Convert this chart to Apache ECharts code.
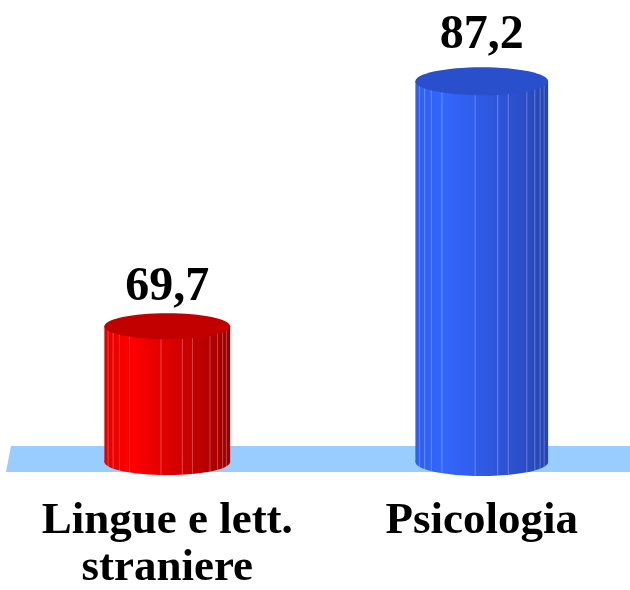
<!DOCTYPE html>
<html>
<head>
<meta charset="utf-8">
<script src="https://cdn.jsdelivr.net/npm/echarts@6/dist/echarts.min.js"></script>
<style>html,body{margin:0;padding:0;background:#fff;}#c{width:630px;height:590px;}</style>
</head>
<body>
<div id="c"></div>
<script>
const categories = ['Lingue e lett.\nstraniere', 'Psicologia'];
const values = [69.7, 87.2];
const axisMin = 60;
const axisMax = 90;

const palettes = [
  { stops: ['#e60000', '#ff0000', '#d80000', '#b00000', '#990000'], top: '#c20000' },
  { stops: ['#2f5ff0', '#3366ff', '#2f58e0', '#2a4cc4', '#2444b0'], top: '#2a4fcc' }
];
const lineFracs = [0.03, 0.07, 0.12, 0.2, 0.45, 0.62, 0.7, 0.84, 0.9, 0.94, 0.97];

function grad(p) {
  return new echarts.graphic.LinearGradient(0, 0, 1, 0, [
    { offset: 0, color: p.stops[0] },
    { offset: 0.22, color: p.stops[1] },
    { offset: 0.55, color: p.stops[2] },
    { offset: 0.85, color: p.stops[3] },
    { offset: 1, color: p.stops[4] }
  ]);
}

function renderCylinder(params, api) {
  const idx = params.dataIndex;
  const v = api.value(1);
  const top = api.coord([api.value(0), v]);
  const base = api.coord([api.value(0), axisMin]);
  const w = api.size([1, 0])[0] * (0.40 + 0.022 * idx);
  const rx = w / 2;
  const ry = 13 + idx;
  const cx = top[0];
  const left = cx - rx;
  const p = palettes[idx % palettes.length];
  const children = [];
  children.push({ type: 'ellipse', shape: { cx: cx, cy: base[1], rx: rx, ry: ry }, style: { fill: grad(p) } });
  children.push({ type: 'rect', shape: { x: left, y: top[1], width: w, height: base[1] - top[1] }, style: { fill: grad(p) } });
  lineFracs.forEach(function (f) {
    const lx = left + f * w;
    const t = 2 * f - 1;
    const dy = ry * Math.sqrt(Math.max(0, 1 - t * t));
    children.push({ type: 'line', shape: { x1: lx, y1: top[1] + dy, x2: lx, y2: base[1] + dy }, style: { stroke: 'rgba(255,255,255,0.28)', lineWidth: 1 } });
  });
  children.push({ type: 'ellipse', shape: { cx: cx, cy: top[1], rx: rx, ry: ry }, style: { fill: p.top } });
  children.push({
    type: 'text',
    style: {
      text: String(v).replace('.', ','),
      x: cx, y: top[1] - ry - 2 - 6 * idx,
      align: 'center', verticalAlign: 'bottom',
      font: 'bold 48px "Liberation Serif", "Times New Roman", serif',
      fill: '#000'
    }
  });
  return { type: 'group', children: children };
}

function renderFloor(params, api) {
  const cs = params.coordSys;
  const b = api.coord([0, axisMin])[1];
  return {
    type: 'polygon',
    shape: { points: [[cs.x + 1, b - 16], [630, b - 16], [630, b + 10], [cs.x - 4, b + 10]] },
    style: { fill: '#99ccff' }
  };
}

const chart = echarts.init(document.getElementById('c'), null, { renderer: 'canvas' });
chart.setOption({
  animation: false,
  backgroundColor: '#ffffff',
  grid: { left: 10, width: 629, top: 42, bottom: 128, outerBoundsMode: 'none', containLabel: false },
  xAxis: {
    type: 'category',
    data: categories,
    axisLine: { show: false },
    axisTick: { show: false },
    axisLabel: {
      margin: 36,
      interval: 0,
      fontSize: 45,
      lineHeight: 47,
      fontWeight: 'bold',
      fontFamily: '"Liberation Serif", "Times New Roman", serif',
      color: '#000'
    }
  },
  yAxis: { type: 'value', min: axisMin, max: axisMax, show: false, splitLine: { show: false } },
  series: [
    { type: 'custom', renderItem: renderFloor, data: [[0, axisMin]], z: 1, silent: true },
    { type: 'custom', renderItem: renderCylinder, data: values.map(function (v, i) { return [i, v]; }), z: 2 }
  ]
});
</script>
</body>
</html>
